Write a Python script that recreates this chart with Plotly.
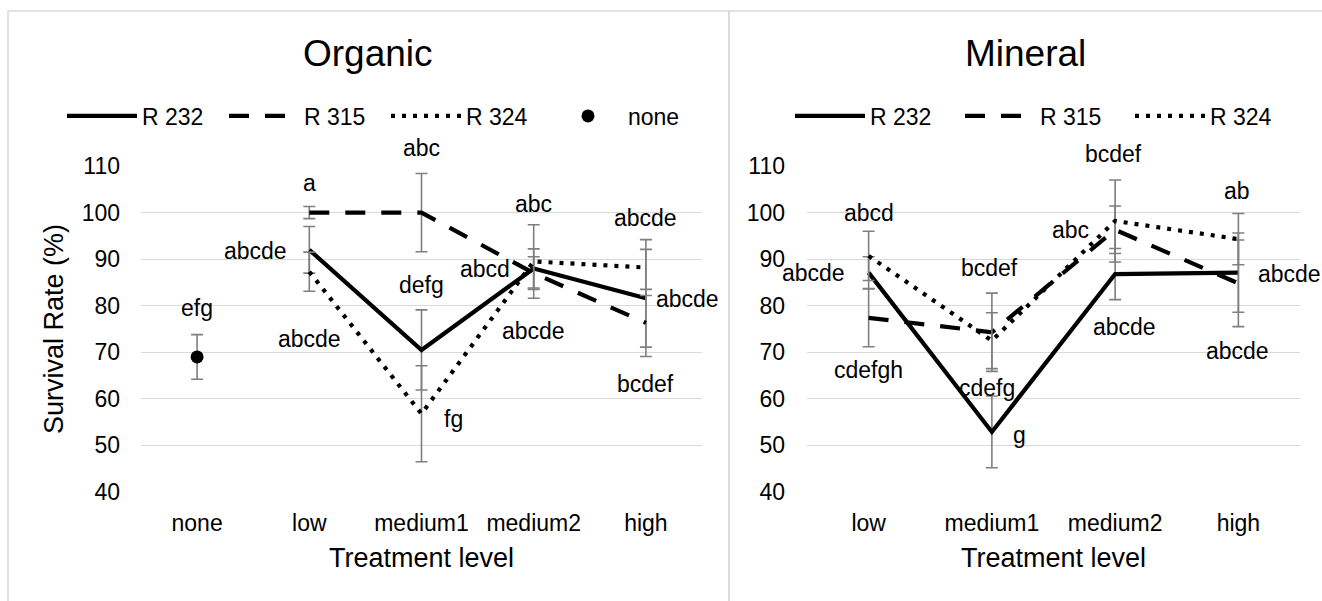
import plotly.graph_objects as go

W, H = 1322, 601

# ---------------- data ----------------
org_levels = ["none", "low", "medium1", "medium2", "high"]
min_levels = ["low", "medium1", "medium2", "high"]
treat = ["low", "medium1", "medium2", "high"]

org_r232 = [92.0, 70.5, 88.0, 81.6]
org_r232_err = [5.0, 8.6, 4.2, 10.5]
org_r315 = [100.0, 100.0, 87.0, 76.3]
org_r315_err = [1.3, 8.4, 3.5, 7.2]
org_r324 = [87.3, 56.8, 89.5, 88.2]
org_r324_err = [4.2, 10.3, 7.9, 6.0]
org_none = [69.0]
org_none_err = [4.8]

min_r232 = [87.1, 52.9, 86.8, 87.1]
min_r232_err = [3.4, 7.7, 5.5, 8.5]
min_r315 = [77.4, 74.3, 96.3, 84.8]
min_r315_err = [6.2, 8.4, 5.1, 9.3]
min_r324 = [90.7, 72.5, 98.2, 94.3]
min_r324_err = [5.3, 6.0, 8.8, 5.5]

# significance letters (per point)
org_r232_let = ["abcde", "defg", "abcd", "abcde"]
org_r315_let = ["a", "abc", "abcde", "bcdef"]
org_r324_let = ["abcde", "fg", "abc", "abcde"]
org_none_let = ["efg"]
min_r232_let = ["abcde", "g", "abcde", "abcde"]
min_r315_let = ["cdefgh", "bcdef", "abc", "abcde"]
min_r324_let = ["abcd", "cdefg", "bcdef", "ab"]

# label offsets in pixels (styling)
org_r232_off = [(-54, -1), (0, 65), (-49, -1), (42, -1)]
org_r315_off = [(0, 30), (0, 65), (0, -58), (0, -61)]
org_r324_off = [(0, -67), (32, -5), (0, 57), (0, 50)]
org_none_off = [(0, 49)]
min_r232_off = [(-55, 0), (28, -3), (9, -53), (51, -1)]
min_r315_off = [(0, -52), (-2, 64), (-45, 0), (-1, -68)]
min_r324_off = [(0, 43), (-5, -47), (-2, 67), (-1, 48)]

# ---------------- style ----------------
FONT = "Liberation Sans, Arial, sans-serif"
ERR_COL = "#7f7f7f"
GRID = "#d9d9d9"
LW = 4.2
FS = 23


def px_x(p):
    return p / W


def px_y(p):
    return 1 - p / H


def err(arr):
    return dict(type="data", array=arr, visible=True, color=ERR_COL,
                thickness=1.6, width=6)


fig = go.Figure()

styles = {
    "R 232": dict(color="black", width=LW, dash="solid"),
    "R 315": dict(color="black", width=LW, dash="20px,16px"),
    "R 324": dict(color="black", width=LW, dash="4px,7px"),
}

org_series = [("R 232", org_r232, org_r232_err), ("R 315", org_r315, org_r315_err),
              ("R 324", org_r324, org_r324_err)]
min_series = [("R 232", min_r232, min_r232_err), ("R 315", min_r315, min_r315_err),
              ("R 324", min_r324, min_r324_err)]

for name, vals, e in org_series:
    fig.add_trace(go.Scatter(x=treat, y=vals, mode="lines", name=name,
                             line=styles[name], error_y=err(e),
                             xaxis="x", yaxis="y", legend="legend"))
fig.add_trace(go.Scatter(x=["none"], y=org_none, mode="markers", name="none",
                         marker=dict(color="black", size=13),
                         error_y=err(org_none_err),
                         xaxis="x", yaxis="y", legend="legend"))
for name, vals, e in min_series:
    fig.add_trace(go.Scatter(x=treat, y=vals, mode="lines", name=name,
                             line=styles[name], error_y=err(e),
                             xaxis="x2", yaxis="y2", legend="legend2"))

annotations = []


def add_labels(xs, vals, lets, offs, xr, yr):
    for xv, yv, t, (dx, dy) in zip(xs, vals, lets, offs):
        annotations.append(dict(x=xv, y=yv, xref=xr, yref=yr, text=t,
                                showarrow=False, xshift=dx, yshift=dy,
                                xanchor="center", yanchor="middle",
                                font=dict(size=FS, color="black", family=FONT)))


add_labels(treat, org_r232, org_r232_let, org_r232_off, "x", "y")
add_labels(treat, org_r315, org_r315_let, org_r315_off, "x", "y")
add_labels(treat, org_r324, org_r324_let, org_r324_off, "x", "y")
add_labels(["none"], org_none, org_none_let, org_none_off, "x", "y")
add_labels(treat, min_r232, min_r232_let, min_r232_off, "x2", "y2")
add_labels(treat, min_r315, min_r315_let, min_r315_off, "x2", "y2")
add_labels(treat, min_r324, min_r324_let, min_r324_off, "x2", "y2")

# panel titles
for txt, cx in (("Organic", 368), ("Mineral", 1025)):
    annotations.append(dict(x=px_x(cx), y=px_y(53), xref="paper", yref="paper",
                            text=txt, showarrow=False,
                            xanchor="center", yanchor="middle",
                            font=dict(size=37, color="black", family=FONT)))

ydom = [px_y(492), px_y(166)]

axis_common = dict(showline=False, zeroline=False, ticks="",
                   tickfont=dict(size=FS, color="black", family=FONT),
                   automargin=False)

legend_common = dict(orientation="h", xanchor="left", yanchor="middle",
                     entrywidthmode="pixels", itemwidth=70,
                     font=dict(size=FS, color="black", family=FONT),
                     bgcolor="rgba(0,0,0,0)", traceorder="normal")

fig.update_layout(
    width=W, height=H,
    template="none",
    paper_bgcolor="white", plot_bgcolor="white",
    margin=dict(l=0, r=0, t=0, b=0, pad=0, autoexpand=False),
    font=dict(family=FONT, color="black"),
    xaxis=dict(domain=[px_x(141), px_x(702)], type="category",
               categoryorder="array", categoryarray=org_levels,
               range=[-0.5, 4.5], showgrid=False, anchor="y", tickangle=0,
               title=dict(text="Treatment level", standoff=13,
                          font=dict(size=27, color="black", family=FONT)),
               ticklabelstandoff=15, **axis_common),
    yaxis=dict(domain=ydom, range=[40, 110], dtick=10, showgrid=True,
               gridcolor=GRID, gridwidth=1.3, anchor="x",
               title=dict(text="Survival Rate (%)", standoff=10,
                          font=dict(size=27, color="black", family=FONT)),
               ticklabelstandoff=20, **axis_common),
    xaxis2=dict(domain=[px_x(807), px_x(1300)], type="category",
                categoryorder="array", categoryarray=min_levels,
                range=[-0.5, 3.5], showgrid=False, anchor="y2", tickangle=0,
                title=dict(text="Treatment level", standoff=13,
                           font=dict(size=27, color="black", family=FONT)),
                ticklabelstandoff=15, **axis_common),
    yaxis2=dict(domain=ydom, range=[40, 110], dtick=10, showgrid=True,
                gridcolor=GRID, gridwidth=1.3, anchor="x2",
                ticklabelstandoff=21, **axis_common),
    legend=dict(x=px_x(62), y=px_y(116), entrywidth=77, **legend_common),
    legend2=dict(x=px_x(790), y=px_y(116), entrywidth=85, **legend_common),
    annotations=annotations,
    shapes=[
        dict(type="rect", xref="paper", yref="paper",
             x0=px_x(8), x1=px_x(729), y0=-0.05, y1=px_y(11),
             line=dict(color=GRID, width=1.5)),
        dict(type="rect", xref="paper", yref="paper",
             x0=px_x(729), x1=1.05, y0=-0.05, y1=px_y(11),
             line=dict(color=GRID, width=1.5)),
    ],
    showlegend=True,
)

fig.write_html("out.html",
               config={"displayModeBar": False},
               post_script="document.body.style.margin='0px';"
                           "document.body.style.overflow='hidden';")
